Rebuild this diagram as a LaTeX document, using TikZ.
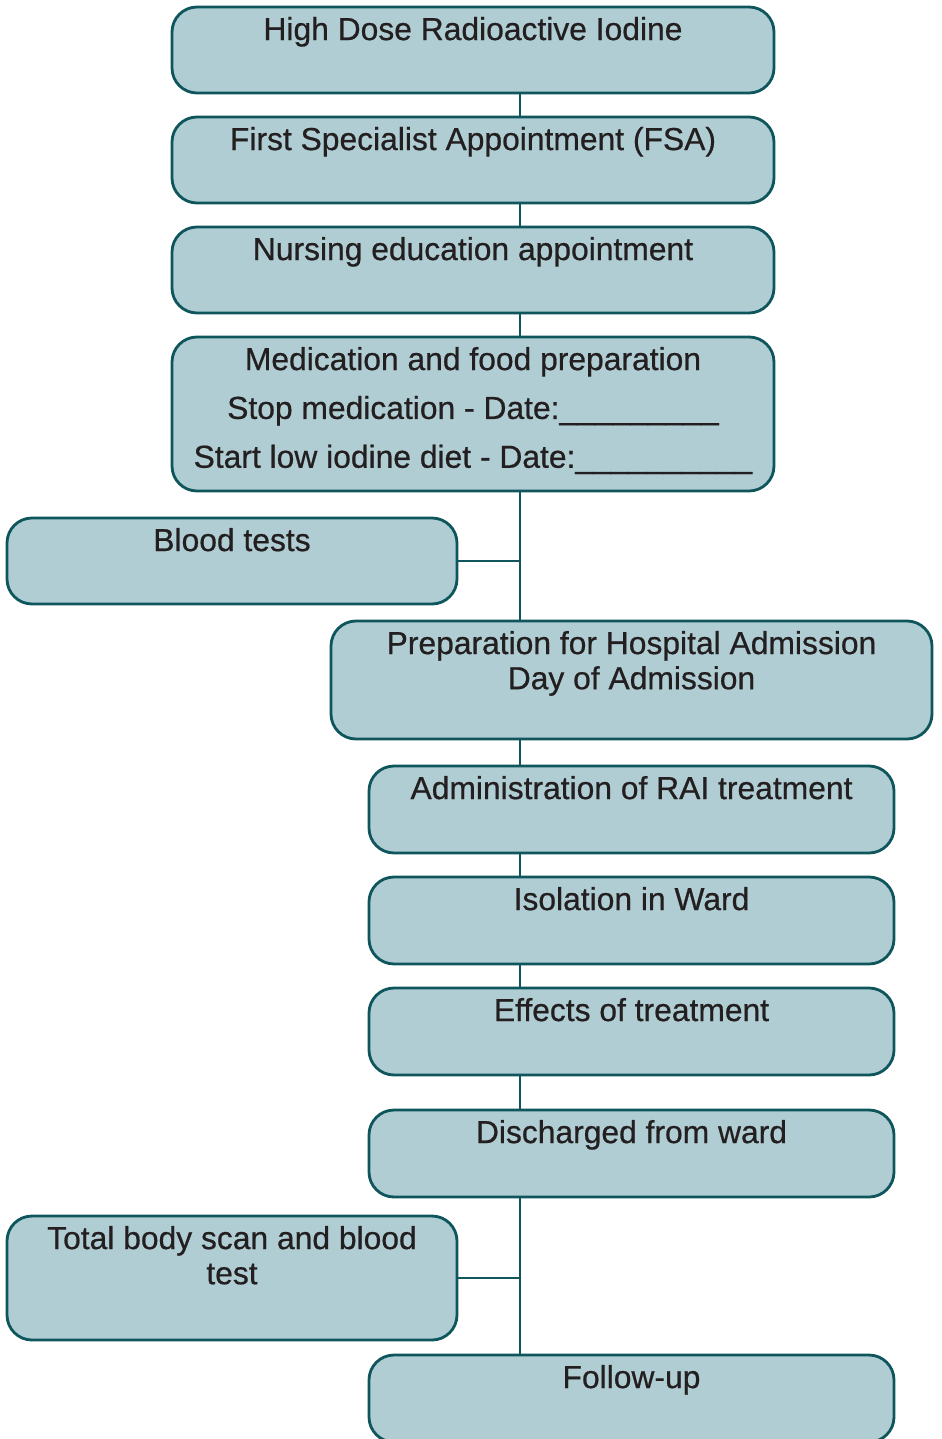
\documentclass[tikz,border=0pt]{standalone}
\usepackage{fontspec}
\setmainfont{Liberation Sans}[UprightFeatures={FakeBold=0.6}]
\definecolor{stepfill}{HTML}{B0CDD3}
\definecolor{stepline}{HTML}{0E555C}
\definecolor{steptext}{HTML}{231F20}
\newcommand{\steptext}[3]{\parbox[t][#2cm][t]{#1cm}{\centering #3}}

\begin{document}
\begin{tikzpicture}
    \tikzstyle{stepbox} = [draw=stepline, fill=stepfill, line width=1.6pt, rounded corners=0.5cm,
      inner xsep=0pt, inner ysep=0.2cm, outer sep=0pt, anchor=north west, text=steptext,
      font=\fontsize{18.1}{20}\selectfont]
    \tikzstyle{link} = [draw=stepline, line width=1.2pt]
    \useasboundingbox (0, 0) rectangle (18.82, -28.78);
    \coordinate (sp) at (10.4, 0);

    \foreach \name/\x/\y/\w/\h/\txt in {
      hd/3.44/0.14/12.04/1.32/{High Dose Radioactive Iodine},
      fsa/3.44/2.34/12.04/1.32/{First Specialist Appointment (FSA)},
      nea/3.44/4.54/12.04/1.32/{Nursing education appointment},
      med/3.44/6.74/12.04/2.68/{Medication and food preparation\\[7.8pt]Stop medication - Date:\_\_\_\_\_\_\_\_\_\\[7.8pt]Start low iodine diet - Date:\_\_\_\_\_\_\_\_\_\_},
      bt/0.14/10.36/9.0/1.32/{Blood tests},
      prep/6.62/12.42/12.02/1.96/{Preparation for Hospital Admission\\Day of Admission},
      rai/7.38/15.32/10.5/1.34/{Administration of RAI treatment},
      iso/7.38/17.54/10.5/1.34/{Isolation in Ward},
      eff/7.38/19.76/10.5/1.34/{Effects of treatment},
      dis/7.38/22.2/10.5/1.34/{Discharged from ward},
      tb/0.14/24.32/9.0/2.08/{Total body scan and blood\\test},
      fu/7.38/27.1/10.5/1.34/{Follow-up}}
      \node [stepbox] (\name) at (\x, -\y) {\steptext{\w}{\h}{\txt}};

    \foreach \a/\b in {hd/fsa, fsa/nea, nea/med, med/prep, prep/rai, rai/iso, iso/eff, eff/dis, dis/fu}
      \draw [link] (\a.south -| sp) -- (\b.north -| sp);

    \draw [link] (bt.east) -- (bt.east -| sp);
    \draw [link] (tb.east) -- (tb.east -| sp);
\end{tikzpicture}
\end{document}
